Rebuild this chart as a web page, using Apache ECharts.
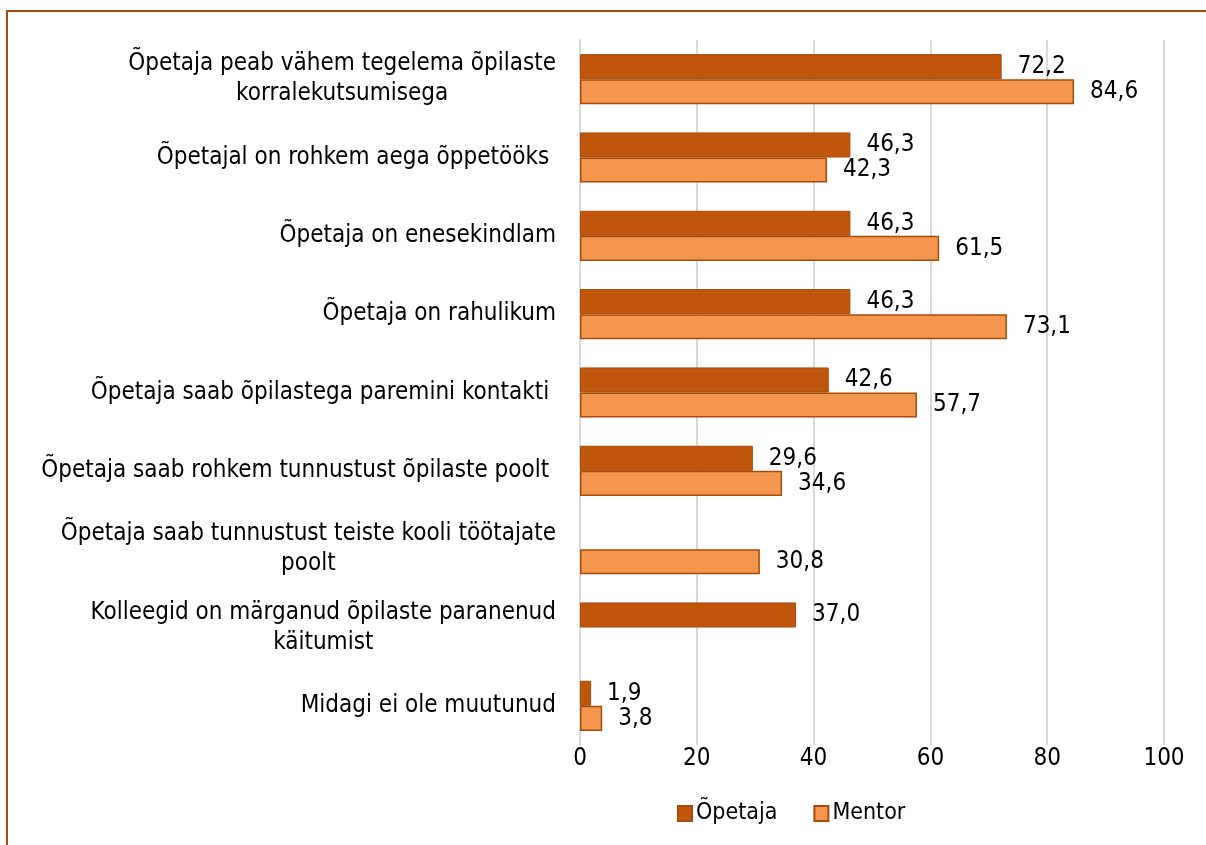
<!DOCTYPE html>
<html>
<head>
<meta charset="utf-8">
<script src="https://cdn.jsdelivr.net/npm/echarts@6/dist/echarts.min.js"></script>
<style>
  html, body { margin: 0; padding: 0; background: #fff; }
  #chart { width: 1206px; height: 845px; }
</style>
</head>
<body>
<div id="chart"></div>
<script>
// kategooriad ülalt alla
var categories = [
  "Õpetaja peab vähem tegelema õpilaste\nkorralekutsumisega",
  "Õpetajal on rohkem aega õppetööks ",
  "Õpetaja on enesekindlam",
  "Õpetaja on rahulikum",
  "Õpetaja saab õpilastega paremini kontakti ",
  "Õpetaja saab rohkem tunnustust õpilaste poolt ",
  "Õpetaja saab tunnustust teiste kooli töötajate\npoolt",
  "Kolleegid on märganud õpilaste paranenud\nkäitumist",
  "Midagi ei ole muutunud"
];
var opetaja = [72.2, 46.3, 46.3, 46.3, 42.6, 29.6, null, 37.0, 1.9];
var mentor = [84.6, 42.3, 61.5, 73.1, 57.7, 34.6, 30.8, null, 3.8];
var seriesNames = ["Õpetaja", "Mentor"];

var font = '"Liberation Sans Narrow", "DejaVu Sans Condensed", sans-serif';

function fmt(p) {
  return p.value == null ? "" : p.value.toFixed(1).replace(".", ",");
}

// mitmerealised sildid keskjoondatud ridadega
function catLabel(v) {
  return v.split("\n").map(function (s) { return "{c|" + s + "}"; }).join("\n");
}

var myChart = echarts.init(document.getElementById("chart"));

var option = {
  animation: false,
  textStyle: { fontFamily: font },
  graphic: [
    {
      type: "rect",
      silent: true,
      shape: { x: 7, y: 11, width: 1400, height: 1000 },
      style: { fill: "none", stroke: "#A64B0A", lineWidth: 2 }
    }
  ],
  legend: {
    left: 672,
    top: 797,
    itemWidth: 14,
    itemHeight: 15,
    itemGap: 36,
    icon: "rect",
    textStyle: { fontSize: 23, color: "#000", fontFamily: font, padding: [0, 0, 0, -1] },
    data: seriesNames
  },
  grid: {
    left: 580,
    right: 42,
    top: 40,
    bottom: 100,
    containLabel: false
  },
  xAxis: {
    type: "value",
    min: 0,
    max: 100,
    interval: 20,
    axisLine: { show: false },
    axisTick: { show: false },
    splitLine: { lineStyle: { color: "#D9D9D9", width: 2 } },
    axisLabel: { color: "#000", fontSize: 24, margin: 2, fontFamily: font }
  },
  yAxis: {
    type: "category",
    inverse: true,
    data: categories,
    axisLine: { show: true, lineStyle: { color: "#D9D9D9", width: 2 } },
    axisTick: { show: false },
    axisLabel: {
      color: "#000",
      fontSize: 24,
      margin: 24,
      lineHeight: 30,
      formatter: catLabel,
      rich: {
        c: { align: "center", fontSize: 24, color: "#000", fontFamily: font, lineHeight: 30 }
      }
    }
  },
  series: [
    {
      name: seriesNames[0],
      type: "bar",
      data: opetaja,
      barGap: "0%",
      barCategoryGap: "36%",
      itemStyle: { color: "#C0560C", borderColor: "#A64B0A", borderWidth: 1 },
      label: {
        show: true,
        position: "right",
        distance: 16,
        color: "#000",
        fontSize: 24,
        fontFamily: font,
        formatter: fmt
      }
    },
    {
      name: seriesNames[1],
      type: "bar",
      data: mentor,
      barGap: "0%",
      barCategoryGap: "36%",
      itemStyle: { color: "#F5964F", borderColor: "#A64B0A", borderWidth: 1.5 },
      label: {
        show: true,
        position: "right",
        distance: 16,
        color: "#000",
        fontSize: 24,
        fontFamily: font,
        formatter: fmt
      }
    }
  ]
};

myChart.setOption(option);
</script>
</body>
</html>
